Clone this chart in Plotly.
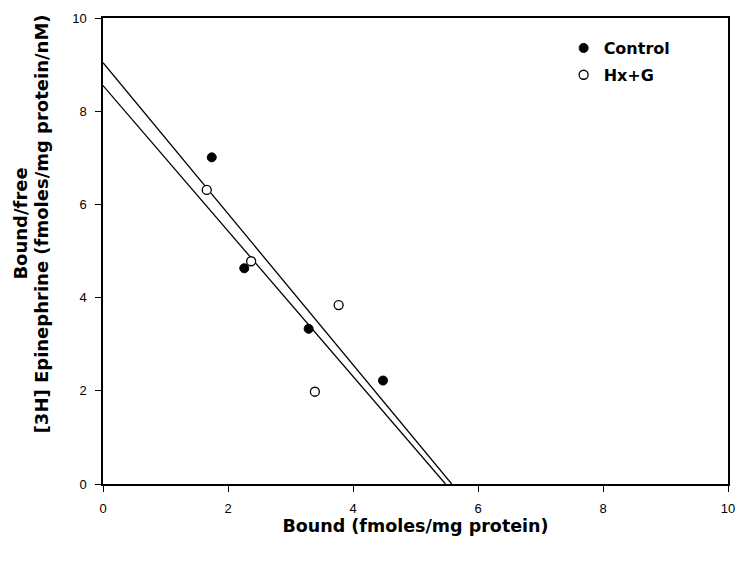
import plotly.graph_objects as go

# Data
control_x = [1.74, 2.26, 3.29, 4.48]
control_y = [7.01, 4.63, 3.33, 2.22]
hxg_x = [1.66, 2.37, 3.77, 3.39]
hxg_y = [6.31, 4.78, 3.84, 1.98]

# Regression lines: y-intercept and x-intercept
line_names = ["Control fit", "Hx+G fit"]
line_y0 = [8.55, 9.04]
line_x0 = [5.48, 5.58]

x_ticks = [0, 2, 4, 6, 8, 10]
y_ticks = [0, 2, 4, 6, 8, 10]

y_title_lines = ["Bound/free", "[3H] Epinephrine (fmoles/mg protein/nM)"]

FONT = "Liberation Sans, Arial, sans-serif"
TFONT = "DejaVu Sans, sans-serif"

W, H = 746, 564
ML, MR, MT, MB = 103, 11, 15, 80
PW, PH = W - ML - MR, H - MT - MB

fig = go.Figure()

for name, b, xi in zip(line_names, line_y0, line_x0):
    fig.add_trace(go.Scatter(
        x=[0, xi], y=[b, 0], mode="lines",
        line=dict(color="black", width=1.3),
        showlegend=False, hoverinfo="skip", name=name))

fig.add_trace(go.Scatter(
    x=control_x, y=control_y, mode="markers", name="Control",
    legendgroup="a",
    marker=dict(symbol="circle", size=9, color="black",
                line=dict(color="black", width=1))))
fig.add_trace(go.Scatter(
    x=hxg_x, y=hxg_y, mode="markers", name="Hx+G",
    legendgroup="b",
    marker=dict(symbol="circle", size=9, color="white",
                line=dict(color="black", width=1.3))))

axis_common = dict(
    showline=True, linecolor="black", linewidth=1.5, mirror=True,
    ticks="outside", ticklen=6, tickcolor="black", tickwidth=1,
    showgrid=False, zeroline=False,
    tickfont=dict(family=FONT, size=13, color="black"),
)

# y-axis title as two rotated annotations (positioned in pixels -> paper)
y_center_px = 222
annotations = []
for txt, xpx in zip(y_title_lines, [20, 41]):
    annotations.append(dict(
        text="<b>%s</b>" % txt, textangle=-90,
        xref="paper", yref="paper",
        x=(xpx - ML) / PW, y=(H - MB - y_center_px) / PH,
        xanchor="center", yanchor="middle", showarrow=False,
        font=dict(family=TFONT, size=18, color="black")))

fig.update_layout(
    width=W, height=H,
    margin=dict(l=ML, r=MR, t=MT, b=MB),
    paper_bgcolor="white", plot_bgcolor="white",
    font=dict(family=FONT, color="black"),
    xaxis=dict(range=[0, 10], tickvals=x_ticks, ticklabelstandoff=6,
               title=dict(text="<b>Bound (fmoles/mg protein)</b>",
                          font=dict(family=TFONT, size=17.5), standoff=3),
               **axis_common),
    yaxis=dict(range=[0, 10], tickvals=y_ticks, ticklabelstandoff=6,
               **axis_common),
    annotations=annotations,
    legend=dict(x=0.737, y=0.972, xanchor="left", yanchor="top",
                font=dict(family=TFONT, size=16, color="black", weight="bold"),
                bgcolor="rgba(0,0,0,0)", tracegroupgap=3),
    showlegend=True,
)

fig.write_html("out.html")
